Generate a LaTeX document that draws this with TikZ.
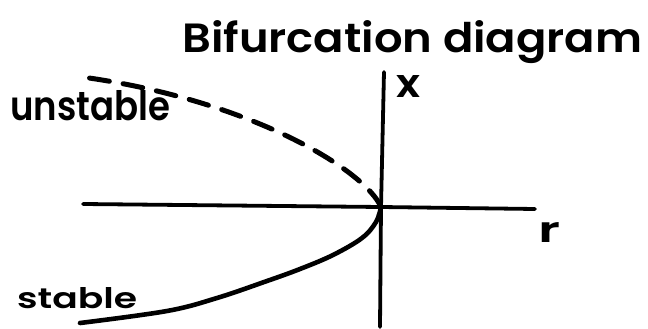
\documentclass[tikz,border=0pt]{standalone}
\usepackage{fontspec}
\usepackage{graphicx}
\setmainfont{Poppins}[BoldFont={* SemiBold}]
\tikzset{
  axis/.style={line width=3.8pt, line cap=round},
  branch/.style={line width=4.6pt, line cap=round},
  unstab/.style={branch, line width=5pt, dash pattern=on 20pt off 14pt},
  lbl/.style={inner sep=0pt, anchor=base west, font=\bfseries},
}
\begin{document}
\begin{tikzpicture}[x=1pt,y=-1pt]
\useasboundingbox (0,0) rectangle (648,329);
% text
\node[lbl] (title) at (182,53) {\resizebox{460pt}{32pt}{Bifurcation diagram}};
\node[lbl] (unst) at (10,120) {\resizebox{160pt}{30pt}{unstable}};
\node[lbl] (stab) at (17,308) {\resizebox{120pt}{21pt}{stable}};
\node[lbl] (xl) at (396,97) {\resizebox{24pt}{22pt}{x}};
\node[lbl] (rl) at (538,242) {\resizebox{22pt}{20pt}{r}};
% axes
\coordinate (O) at (381,207);
\coordinate (hl) at (83,204);
\coordinate (hr) at (535,209);
\coordinate (vt) at (384,72);
\coordinate (vb) at (380,327);
\draw[axis] (hl) -- (O) -- (hr);
\draw[axis] (vt) -- (O) -- (vb);
% branches
\coordinate (ue) at (82,77);
\coordinate (se) at (80,323);
\draw[unstab] (O) .. controls (365,170) and (250,100) .. (ue);
\draw[branch] plot[smooth, tension=0.6] coordinates {(O) (376,222) (362,238) (333,255) (300,269) (267,281) (217,298) (167,311) (se)};
\end{tikzpicture}
\end{document}
